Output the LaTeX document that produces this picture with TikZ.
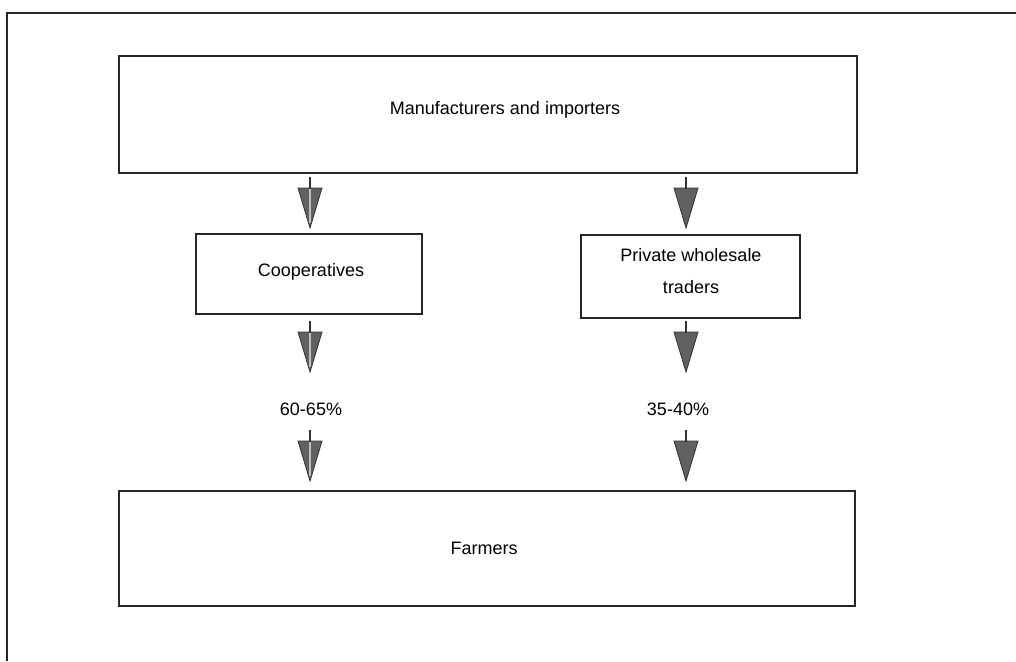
\documentclass[tikz,border=0pt]{standalone}
\usepackage{fontspec}
\setmainfont{Liberation Sans}
\begin{document}
\begin{tikzpicture}[x=0.75pt,y=-0.75pt,
  box/.style={draw=black!85,line width=1.5pt,rectangle,inner sep=0pt},
  txt/.style={inner sep=0pt,align=center,font=\fontsize{13.5}{24}\selectfont},
  headfill/.style={fill=black!62,draw=black!80,line width=0.6pt},
  stem/.style={draw=black!80,line width=1pt},
  glint/.style={draw=black!25,line width=0.8pt}]
\useasboundingbox (0,0) rectangle (1016,661);
% page frame (left and top rules)
\draw[black!85,line width=1.5pt] (7,661) -- (7,13) -- (1016,13);

% boxes
\node[box,minimum width=738*0.75pt,minimum height=117*0.75pt] (mfr) at (488,114.5) {};
\node[box,minimum width=226*0.75pt,minimum height=80*0.75pt] (coop) at (309,274) {};
\node[box,minimum width=219*0.75pt,minimum height=83*0.75pt] (pwt) at (690.5,276.5) {};
\node[box,minimum width=736*0.75pt,minimum height=115*0.75pt] (farm) at (487,548.5) {};

% box texts
\node[txt] (mfrt) at (505,110) {Manufacturers and importers};
\node[txt] (coopt) at (311,272) {Cooperatives};
\node[txt] (pwtt) at (691,271) {Private wholesale\\traders};
\node[txt] (farmt) at (484,548) {Farmers};

% shares
\node[txt] (s1) at (311,409) {60-65\%};
\node[txt] (s2) at (678,409) {35-40\%};

% arrow tops
\coordinate (a1) at (310,177);
\coordinate (a2) at (310,321);
\coordinate (a3) at (310,430);
\coordinate (b1) at (686,177);
\coordinate (b2) at (686,321);
\coordinate (b3) at (686,430);

% arrow glyph: short stem over a filled triangle
\foreach \p/\g in {a1/1,a2/1,a3/1,b1/0,b2/0,b3/0}{
  \draw[headfill] ([xshift=-12*0.75pt,yshift=-11*0.75pt]\p) -- ([xshift=12*0.75pt,yshift=-11*0.75pt]\p) -- ([yshift=-51*0.75pt]\p) -- cycle;
  \draw[stem] (\p) -- ([yshift=-12*0.75pt]\p);
  \ifnum\g=1
    \draw[glint] ([yshift=-12*0.75pt]\p) -- ([yshift=-46*0.75pt]\p);
  \fi
}
\end{tikzpicture}
\end{document}
